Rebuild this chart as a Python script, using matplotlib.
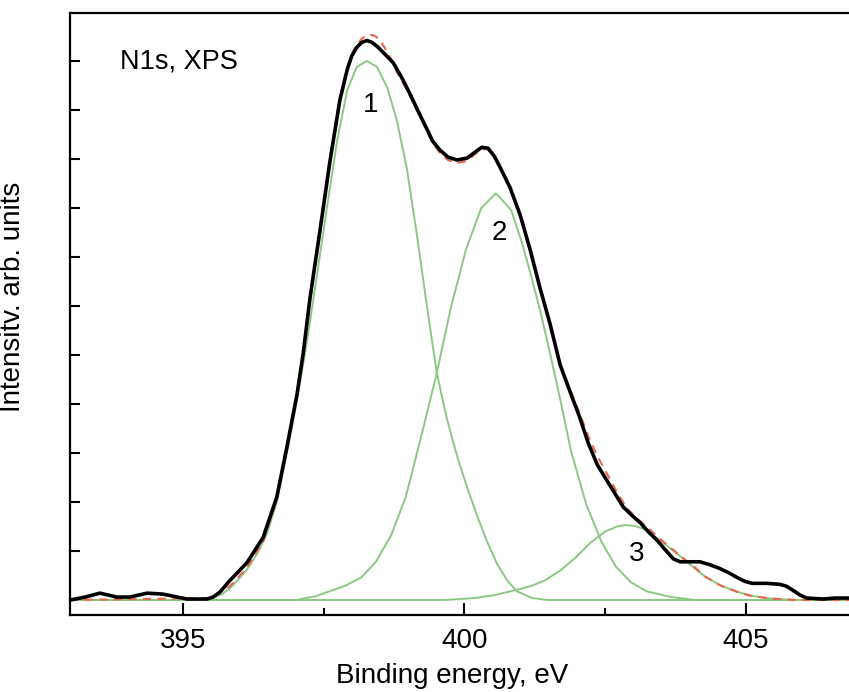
import matplotlib.pyplot as plt
from matplotlib.ticker import MultipleLocator, NullFormatter

plt.rcParams['font.family'] = ['Liberation Sans', 'DejaVu Sans']

# experimental N1s spectrum (binding energy, eV ; intensity, arb. units)
exp_e = [393.0, 393.27, 393.53, 393.83, 394.06, 394.37, 394.65, 395.08, 395.43,
         395.54, 395.66, 395.84, 396.14, 396.43, 396.67, 396.85, 397.03, 397.14,
         397.26, 397.44, 397.61, 397.79, 397.92, 398.00, 398.09, 398.18, 398.27,
         398.36, 398.45, 398.59, 398.74, 398.89, 399.03, 399.17, 399.34, 399.44,
         399.57, 399.71, 399.87, 400.05, 400.19, 400.31, 400.42, 400.53, 400.63,
         400.81, 400.99, 401.17, 401.34, 401.52, 401.70, 401.88, 402.05, 402.20,
         402.36, 402.53, 402.68, 402.82, 402.98, 403.12, 403.26, 403.42, 403.57,
         403.71, 403.83, 403.95, 404.18, 404.36, 404.54, 404.72, 404.84, 404.98,
         405.11, 405.37, 405.60, 405.72, 405.83, 405.96, 406.08, 406.37, 406.58,
         406.83]
exp_i = [0.0, 0.03, 0.07, 0.03, 0.03, 0.07, 0.06, 0.01, 0.01,
         0.03, 0.08, 0.20, 0.38, 0.64, 1.05, 1.56, 2.10, 2.52,
         3.08, 3.78, 4.46, 5.10, 5.41, 5.55, 5.64, 5.69, 5.71,
         5.69, 5.65, 5.57, 5.48, 5.33, 5.17, 5.00, 4.80, 4.68,
         4.59, 4.52, 4.49, 4.51, 4.57, 4.62, 4.61, 4.53, 4.42,
         4.21, 3.93, 3.57, 3.19, 2.82, 2.40, 2.12, 1.86, 1.60,
         1.38, 1.22, 1.08, 0.95, 0.86, 0.79, 0.70, 0.61, 0.51,
         0.42, 0.39, 0.39, 0.39, 0.36, 0.32, 0.27, 0.23, 0.19,
         0.17, 0.17, 0.16, 0.14, 0.10, 0.05, 0.02, 0.01, 0.02,
         0.02]

# fitted envelope
fit_e = [393.0, 395.5, 395.84, 396.14, 396.43, 396.67, 396.85, 397.03, 397.14,
         397.26, 397.44, 397.61, 397.79, 397.92, 398.05, 398.18, 398.30, 398.40,
         398.50, 398.59, 398.68, 398.80, 398.89, 399.03, 399.17, 399.34, 399.44,
         399.57, 399.71, 399.87, 400.05, 400.19, 400.31, 400.42, 400.53, 400.63,
         400.81, 400.99, 401.17, 401.34, 401.52, 401.70, 401.88, 402.05, 402.20,
         402.36, 402.53, 402.68, 402.88, 403.05, 403.23, 403.48, 403.71, 403.90,
         404.06, 404.27, 404.54, 404.81, 405.07, 405.43, 405.87, 407.0]
fit_i = [0.0, 0.02, 0.14, 0.33, 0.60, 1.02, 1.53, 2.08, 2.52,
         3.08, 3.82, 4.50, 5.12, 5.44, 5.63, 5.73, 5.77, 5.76,
         5.72, 5.63, 5.54, 5.39, 5.30, 5.15, 4.98, 4.78, 4.66,
         4.56, 4.49, 4.46, 4.48, 4.55, 4.60, 4.60, 4.52, 4.42,
         4.21, 3.93, 3.57, 3.19, 2.82, 2.42, 2.14, 1.90, 1.67,
         1.47, 1.29, 1.13, 0.94, 0.84, 0.75, 0.62, 0.51, 0.42,
         0.35, 0.24, 0.15, 0.09, 0.045, 0.015, 0.0, 0.0]

# component 1
c1_e = [393.0, 395.43, 395.70, 395.88, 396.05, 396.14, 396.32, 396.50, 396.67,
        396.85, 397.03, 397.21, 397.38, 397.56, 397.74, 397.92, 398.09, 398.27,
        398.45, 398.63, 398.80, 398.98, 399.16, 399.34, 399.51, 399.69, 399.87,
        400.05, 400.22, 400.40, 400.58, 400.76, 400.93, 401.20, 401.47, 407.0]
c1_i = [0.0, 0.0, 0.06, 0.14, 0.25, 0.31, 0.47, 0.68, 1.00,
        1.50, 2.04, 2.65, 3.30, 4.00, 4.68, 5.20, 5.44, 5.50,
        5.44, 5.23, 4.90, 4.40, 3.72, 2.98, 2.32, 1.85, 1.47,
        1.15, 0.87, 0.60, 0.37, 0.20, 0.09, 0.02, 0.0, 0.0]

# component 2
c2_e = [393.0, 397.01, 397.37, 397.90, 398.17, 398.43, 398.70, 398.96, 399.23,
        399.50, 399.76, 400.03, 400.30, 400.56, 400.83, 401.01, 401.18, 401.36,
        401.54, 401.72, 401.89, 402.16, 402.43, 402.69, 402.96, 403.23, 403.67,
        404.11, 407.0]
c2_i = [0.0, 0.0, 0.04, 0.15, 0.23, 0.39, 0.66, 1.05, 1.66,
        2.29, 2.98, 3.58, 4.00, 4.15, 3.98, 3.67, 3.32, 2.92,
        2.47, 2.00, 1.53, 0.98, 0.60, 0.34, 0.18, 0.09, 0.03,
        0.0, 0.0]

# component 3
c3_e = [393.0, 399.66, 400.19, 400.54, 400.90, 401.17, 401.43, 401.70, 401.97,
        402.23, 402.50, 402.71, 402.85, 403.03, 403.21, 403.47, 403.74, 404.01,
        404.27, 404.54, 404.81, 405.07, 405.43, 405.87, 407.0]
c3_i = [0.0, 0.0, 0.02, 0.05, 0.10, 0.14, 0.20, 0.30, 0.43,
        0.58, 0.70, 0.75, 0.765, 0.755, 0.72, 0.61, 0.49, 0.36,
        0.24, 0.15, 0.09, 0.045, 0.015, 0.0, 0.0]

labels = ["1", "2", "3"]
label_pos = [(398.33, 5.05), (400.62, 3.75), (403.05, 0.47)]

fig = plt.figure(figsize=(8.49, 6.92), dpi=100)
ax = fig.add_axes([70 / 849, 77 / 692, (858.7 - 70) / 849, (615 - 13) / 692])

green = "#8cc884"
for e, i in [(c1_e, c1_i), (c2_e, c2_i), (c3_e, c3_i)]:
    ax.plot(e, i, color=green, lw=1.4, zorder=2)
ax.plot(fit_e, fit_i, color="#e8664e", lw=1.5, ls=(0, (4, 3)), zorder=3)
ax.plot(exp_e, exp_i, color="black", lw=2.6, zorder=4, solid_joinstyle="round")

for t, (x, y) in zip(labels, label_pos):
    ax.text(x, y, t, fontsize=20, ha="center", va="center", zorder=5)
ax.text(0.063, 0.92, "N1s, XPS", transform=ax.transAxes, fontsize=19.5,
        ha="left", va="center")

ax.set_xlim(393.0, 407.0)
ax.set_ylim(-0.153, 5.99)
ax.xaxis.set_major_locator(MultipleLocator(5))
ax.xaxis.set_minor_locator(MultipleLocator(2.5))
ax.yaxis.set_major_locator(MultipleLocator(1))
ax.yaxis.set_minor_locator(MultipleLocator(0.5))
ax.yaxis.set_major_formatter(NullFormatter())
ax.tick_params(which="both", direction="in", width=1.5, top=False, right=False)
ax.tick_params(axis="x", which="major", length=9, labelsize=20, pad=9)
ax.tick_params(axis="x", which="minor", length=5)
ax.tick_params(axis="y", which="both", length=7)
for s in ax.spines.values():
    s.set_linewidth(1.6)

ax.set_xlabel("Binding energy, eV", fontsize=20)
ax.set_ylabel("Intensitv. arb. units", fontsize=20)
ax.xaxis.set_label_coords(0.484, -0.08)
ax.yaxis.set_label_coords(-0.056, 0.528)

fig.savefig("out.png", dpi=100)
